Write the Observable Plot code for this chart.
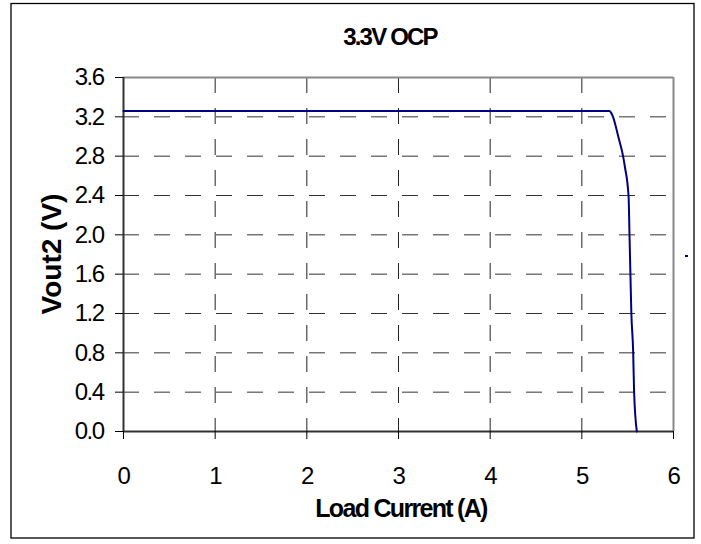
<!DOCTYPE html>
<html>
<head>
<meta charset="utf-8">
<script src="https://cdn.jsdelivr.net/npm/d3@7"></script>
<script src="https://cdn.jsdelivr.net/npm/@observablehq/plot@0.6"></script>
<style>
  html, body { margin: 0; padding: 0; background: #fff; }
  #chart { position: relative; width: 701px; height: 544px; }
</style>
</head>
<body>
<div id="chart"></div>
<script>
const titleText = "3.3V OCP";
const xLabel = "Load Current (A)";
const yLabel = "Vout2 (V)";

const current = [0, 1, 2, 3, 4, 5, 5.30, 5.32, 5.34, 5.40, 5.45, 5.47, 5.51, 5.52, 5.53, 5.54, 5.56, 5.57, 5.60];
const vout2   = [3.26, 3.26, 3.26, 3.26, 3.26, 3.26, 3.26, 3.24, 3.20, 2.99, 2.80, 2.69, 2.39, 2.00, 1.60, 1.21, 0.81, 0.41, 0.00];

const xTicks = [0, 1, 2, 3, 4, 5, 6];
const yTicks = [0, 0.4, 0.8, 1.2, 1.6, 2.0, 2.4, 2.8, 3.2, 3.6];
const yTickLabels = ["0.0", "0.4", "0.8", "1.2", "1.6", "2.0", "2.4", "2.8", "3.2", "3.6"];

const data = current.map((c, i) => ({current: c, vout: vout2[i]}));
const xMin = xTicks[0], xMax = xTicks[xTicks.length - 1];
const yMin = yTicks[0], yMax = yTicks[yTicks.length - 1];

const plot = Plot.plot({
  width: 701,
  height: 544,
  marginLeft: 123,
  marginRight: 28,
  marginTop: 77,
  marginBottom: 113,
  style: {fontFamily: "'Liberation Sans', Arial, sans-serif", fontSize: "24px", letterSpacing: "-1.5px", background: "#fff", color: "#000"},
  x: {domain: [xMin, xMax]},
  y: {domain: [yMin, yMax]},
  marks: [
    Plot.gridY(yTicks.slice(1, -1), {stroke: "#333", strokeOpacity: 1, strokeWidth: 1, strokeDasharray: "16,15"}),
    Plot.gridX(xTicks.slice(1, -1), {stroke: "#222", strokeOpacity: 1, strokeWidth: 1, strokeDasharray: "16,15"}),
    Plot.ruleY([yMax], {stroke: "#888", strokeWidth: 2}),
    Plot.ruleX([xMax], {stroke: "#888", strokeWidth: 2}),
    Plot.ruleY([yMin], {stroke: "#333", strokeWidth: 2}),
    Plot.ruleX([xMin], {stroke: "#333", strokeWidth: 2}),
    Plot.axisX({ticks: xTicks, tickSize: 8, tickPadding: 27, label: null, tickFormat: d => String(d)}),
    Plot.axisY({ticks: yTicks, tickSize: 8, tickPadding: 12, label: null, tickFormat: d => yTickLabels[yTicks.indexOf(d)]}),
    Plot.line(data, {x: "current", y: "vout", stroke: "#000080", strokeWidth: 2, curve: "monotone-x"})
  ]
});

document.getElementById("chart").appendChild(plot);
const svg = d3.select(plot);

// outer chart border
svg.append("rect")
  .attr("x", 11).attr("y", 3.5).attr("width", 683).attr("height", 534.5)
  .attr("fill", "none").attr("stroke", "#000").attr("stroke-width", 1.3);

// title
svg.append("text")
  .attr("x", 390).attr("y", 45)
  .attr("text-anchor", "middle")
  .attr("font-size", 24).attr("font-weight", "bold")
  .attr("letter-spacing", "-1.8px")
  .text(titleText);

// x label
svg.append("text")
  .attr("x", 401).attr("y", 517)
  .attr("text-anchor", "middle")
  .attr("font-size", 25).attr("font-weight", "bold")
  .attr("letter-spacing", "-1.7px")
  .text(xLabel);

// y label
svg.append("text")
  .attr("transform", "translate(61,254) rotate(-90)")
  .attr("text-anchor", "middle")
  .attr("font-size", 28).attr("font-weight", "bold")
  .attr("letter-spacing", "0px")
  .text(yLabel);

// small stray legend mark at right
svg.append("line")
  .attr("x1", 685).attr("x2", 688).attr("y1", 256).attr("y2", 256)
  .attr("stroke", "#000080").attr("stroke-width", 2);
</script>
</body>
</html>
